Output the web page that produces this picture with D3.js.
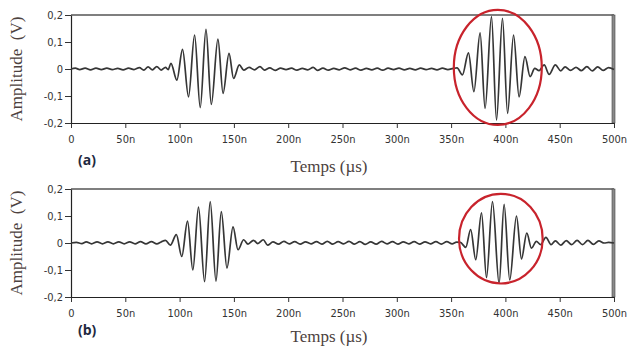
<!DOCTYPE html>
<html>
<head>
<meta charset="utf-8">
<script src="https://cdn.jsdelivr.net/npm/d3@7"></script>
<style>
  body { margin: 0; background: #fff; }
  svg { display: block; }
</style>
</head>
<body>
<div id="chart"></div>
<script>
// tick values
const xTicks = [0, 50, 100, 150, 200, 250, 300, 350, 400, 450, 500];
const yTicks = [-0.2, -0.1, 0, 0.1, 0.2];

// signal (a): [time ns, amplitude V]
const signalA = [
  [0, 0], [4, 0.003], [8, -0.002], [13, 0.003], [18, -0.003], [23, 0.003], [28, -0.002],
  [33, 0.003], [38, -0.002], [43, 0.002], [48, -0.003], [53, 0.003], [58, -0.002],
  [63, 0.005], [67, -0.004], [71, 0.008], [75, -0.003], [79, 0.009], [83, -0.004],
  [87, 0.006], [89.5, -0.002], [92, 0.021], [97.5, -0.041], [102.7, 0.073],
  [108.2, -0.103], [113.8, 0.126], [119, -0.143], [124.3, 0.147], [129.2, -0.131],
  [135.3, 0.111], [140, -0.09], [145.5, 0.058], [149.7, -0.035], [155, 0.015],
  [159, -0.004], [164, 0.006], [169, -0.003], [174, 0.009], [178, -0.004], [183, 0.004],
  [188, -0.005], [193, 0.003], [198, -0.002], [203, 0.003], [208, -0.004], [213, 0.002],
  [218, -0.003], [223, 0.006], [227, -0.005], [232, 0.003], [237, -0.004], [242, 0.002],
  [247, -0.003], [252, 0.004], [257, -0.003], [262, 0.003], [267, -0.004], [272, 0.002],
  [277, -0.003], [282, 0.003], [287, -0.004], [292, 0.003], [297, -0.002], [302, 0.003],
  [307, -0.003], [312, 0.002], [317, -0.003], [322, 0.003], [327, -0.002], [332, 0.002],
  [337, -0.003], [342, 0.003], [347, -0.002], [352, 0.002], [355.5, 0.004],
  [360.4, -0.022], [366, 0.06], [371, -0.084], [376.7, 0.134], [381.3, -0.146],
  [387.2, 0.194], [391.8, -0.189], [397.3, 0.188], [402, -0.164], [407.5, 0.126],
  [412.6, -0.103], [418, 0.046], [422.8, -0.028], [427, 0.002], [431, -0.006],
  [435.7, 0.015], [440.3, -0.02], [446, 0.015], [451, -0.007], [455, 0.008],
  [460, -0.005], [465, 0.006], [470, -0.006], [475, 0.009], [480, -0.007], [485, 0.008],
  [490, -0.005], [495, 0.005], [500, -0.002]
];

// signal (b)
const signalB = [
  [0, 0], [5, 0.002], [10, -0.002], [14, 0.004], [19, -0.003], [24, 0.004], [29, -0.003],
  [34, 0.004], [39, -0.003], [44, 0.004], [49, -0.003], [54, 0.004], [59, -0.003],
  [64, 0.005], [69, -0.003], [74, 0.005], [79, -0.003], [83, 0.004], [87, 0.01],
  [91.5, -0.008], [97, 0.031], [102, -0.05], [107.3, 0.081], [112.2, -0.1],
  [117.4, 0.133], [123, -0.143], [128.2, 0.153], [133.5, -0.141], [138.4, 0.116],
  [143.6, -0.093], [149.2, 0.06], [153.8, -0.025], [159, 0.012], [163, -0.004],
  [168, 0.01], [172, -0.002], [177, 0.012], [181, -0.008], [186, 0.004], [191, -0.004],
  [196, 0.006], [201, -0.003], [206, 0.005], [211, -0.004], [216, 0.004], [221, -0.003],
  [226, 0.005], [231, -0.004], [236, 0.006], [241, -0.004], [246, 0.005], [251, -0.003],
  [256, 0.006], [261, -0.004], [266, 0.005], [271, -0.005], [276, 0.004], [281, -0.004],
  [286, 0.006], [291, -0.003], [296, 0.005], [301, -0.004], [306, 0.004], [311, -0.003],
  [316, 0.005], [321, -0.004], [326, 0.004], [331, -0.003], [336, 0.005], [341, -0.004],
  [346, 0.005], [351, -0.003], [355, 0.003], [358.5, 0.002], [363.5, -0.016],
  [368, 0.05], [372.7, -0.062], [378, 0.112], [382.6, -0.128], [388.1, 0.153],
  [394.2, -0.15], [398.8, 0.143], [404, -0.137], [410.2, 0.1], [414.8, -0.059],
  [419.7, 0.037], [424, -0.019], [428.5, 0.006], [432.5, -0.006], [437.3, 0.021],
  [442, -0.006], [446, 0.008], [451, -0.008], [456, 0.009], [461, -0.006], [466, 0.01],
  [471, -0.006], [476, 0.01], [481, -0.005], [486, 0.008], [491, 0], [495, 0.002], [500, 0]
];

// highlighted echo: [centre time, centre amp, half width ns, half height V]
const ellipseA = [393, 0.006, 40.5, 0.213];
const ellipseB = [395.8, 0.016, 38.5, 0.166];

const W = 627, H = 350;
const plotLeft = 71, plotRight = 614;

const locale = d3.formatLocale({ decimal: ",", thousands: ".", grouping: [3], currency: ["", ""], minus: "-" });
const fmtY = d => d === 0 ? "0" : locale.format(".1f")(d);
const fmtX = d => d === 0 ? "0" : d + "n";

const svg = d3.select("#chart").append("svg")
  .attr("width", W)
  .attr("height", H);

const x = d3.scaleLinear().domain([0, 500]).range([plotLeft, plotRight]);

function drawPanel(data, ell, tag, top, bottom, titleY, tagY) {
  const y = d3.scaleLinear().domain([-0.2, 0.2]).range([bottom, top]);
  const g = svg.append("g");

  // frame
  g.append("line")
    .attr("x1", plotLeft).attr("x2", plotRight)
    .attr("y1", top).attr("y2", top)
    .attr("stroke", "#555").attr("stroke-width", 1.5);
  g.append("rect")
    .attr("x", plotRight - 2).attr("y", top)
    .attr("width", 3).attr("height", bottom - top)
    .attr("fill", "#8a8a8a").attr("stroke", "#444").attr("stroke-width", 0.6);

  const xAxis = g.append("g")
    .attr("transform", `translate(0,${bottom})`)
    .call(d3.axisBottom(x).tickValues(xTicks).tickFormat(fmtX).tickSize(5).tickSizeOuter(0));
  const yAxis = g.append("g")
    .attr("transform", `translate(${plotLeft},0)`)
    .call(d3.axisLeft(y).tickValues(yTicks).tickFormat(fmtY).tickSize(6).tickSizeOuter(0));

  [xAxis, yAxis].forEach(a => {
    a.select(".domain").attr("stroke", "#222").attr("stroke-width", 1.2);
    a.selectAll(".tick line").attr("stroke", "#333");
    a.selectAll("text")
      .attr("fill", "#333")
      .style("font-family", "'DejaVu Sans Condensed', 'Liberation Sans', sans-serif")
      .style("font-size", "11px");
  });
  xAxis.selectAll("text").attr("dy", "1.1em");
  yAxis.selectAll("text").attr("x", -8);

  // waveform
  g.append("path")
    .datum(data)
    .attr("fill", "none")
    .attr("stroke", "#363636")
    .attr("stroke-width", 1.7)
    .attr("stroke-linejoin", "round")
    .attr("d", d3.line()
      .x(d => x(d[0]))
      .y(d => y(d[1]))
      .curve(d3.curveMonotoneX));

  // red ellipse around the echo
  g.append("ellipse")
    .attr("cx", x(ell[0]))
    .attr("cy", y(ell[1]))
    .attr("rx", x(ell[0] + ell[2]) - x(ell[0]))
    .attr("ry", y(0) - y(ell[3]))
    .attr("fill", "none")
    .attr("stroke", "#c8232c")
    .attr("stroke-width", 2.2);

  // y label
  g.append("text")
    .attr("transform", `translate(22,${(top + bottom) / 2}) rotate(-90)`)
    .attr("text-anchor", "middle")
    .style("white-space", "pre")
    .style("font-family", "'Liberation Serif', 'DejaVu Serif', serif")
    .style("font-size", "17px")
    .attr("fill", "#4d4240")
    .text("Amplitude  (V)");

  // x label
  g.append("text")
    .attr("x", 329)
    .attr("y", titleY)
    .attr("text-anchor", "middle")
    .style("font-family", "'Liberation Serif', 'DejaVu Serif', serif")
    .style("font-size", "17px")
    .attr("fill", "#4d4240")
    .text("Temps (µs)");

  // panel tag
  g.append("text")
    .attr("x", 78)
    .attr("y", tagY)
    .style("font-family", "'Open Sans', 'DejaVu Sans', sans-serif")
    .style("font-weight", "bold")
    .style("font-size", "14px")
    .attr("fill", "#1f2940")
    .text(tag);
}

drawPanel(signalA, ellipseA, "(a)", 15, 123, 172, 165);
drawPanel(signalB, ellipseB, "(b)", 189, 297, 342, 335);
</script>
</body>
</html>
